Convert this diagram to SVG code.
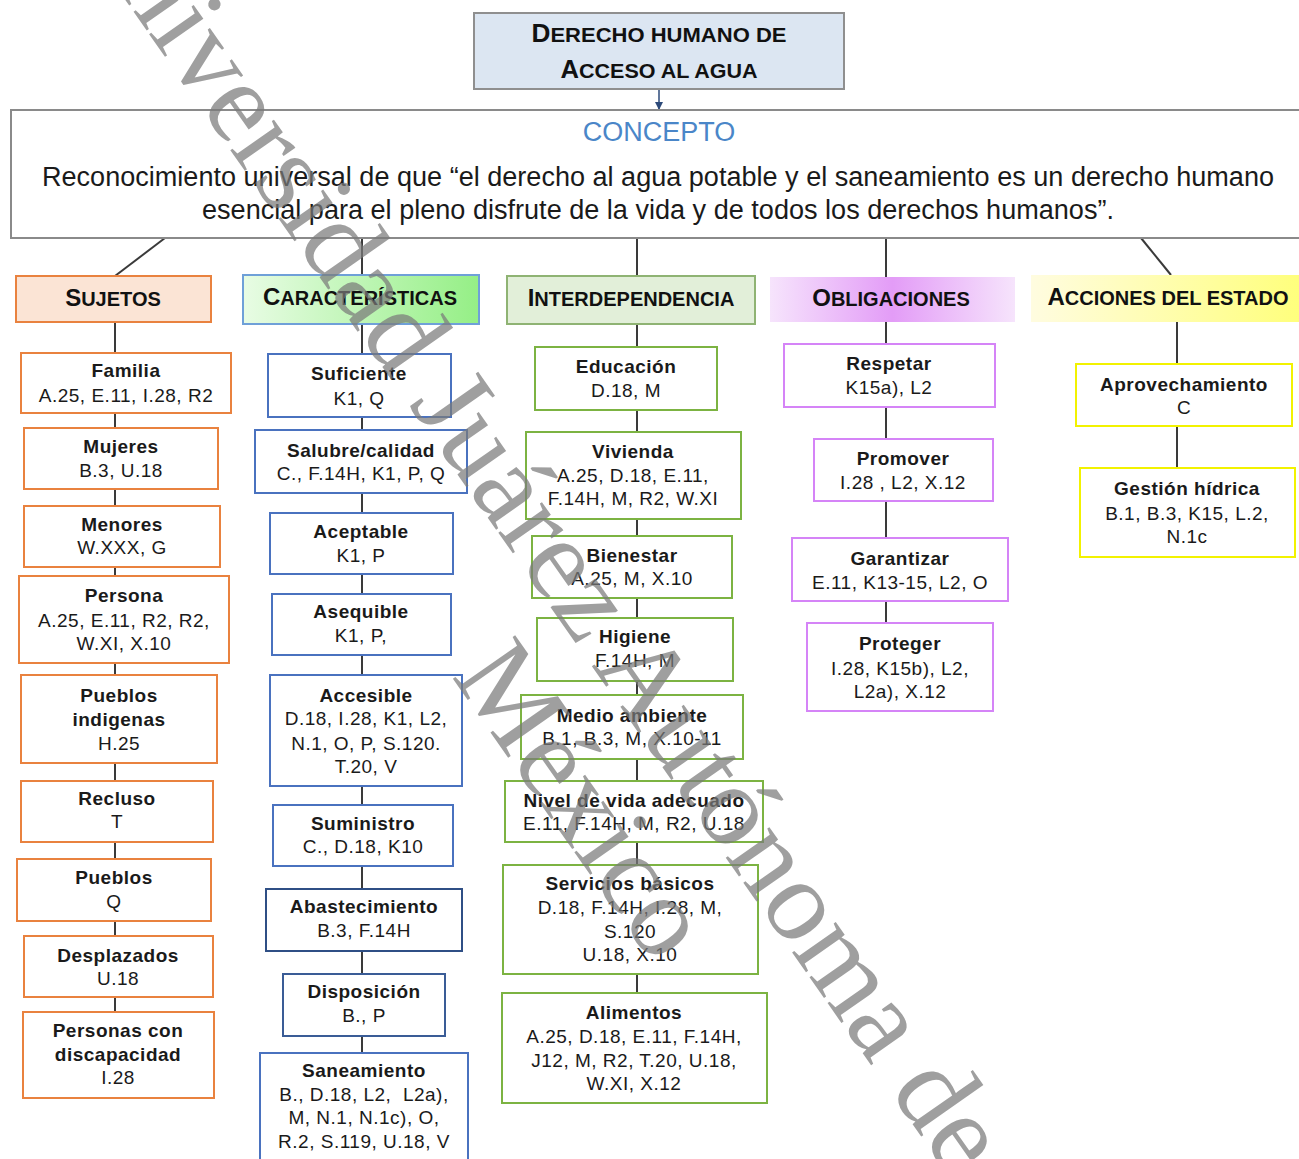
<svg xmlns="http://www.w3.org/2000/svg" width="1299" height="1159" viewBox="0 0 1299 1159">
<defs>
<style>
text{font-family:"Liberation Sans",Arial,sans-serif;fill:#1a1a1a}
.t{font-weight:bold;font-size:19px;letter-spacing:0.5px;text-anchor:middle}
.r{font-size:19px;letter-spacing:0.5px;text-anchor:middle}
.h{font-weight:bold;font-size:20px;text-anchor:middle;fill:#111}
.big{font-size:24px}
.bs rect{fill:#fff;stroke:#e9823f;stroke-width:2}
.bc rect{fill:#fff;stroke:#4a72bf;stroke-width:2}
.bi rect{fill:#fff;stroke:#7cb342;stroke-width:2}
.bo rect{fill:#fff;stroke:#d584f7;stroke-width:2}
.ba rect{fill:#fff;stroke:#f2f200;stroke-width:2}
.con line{stroke:#3a3a3a;stroke-width:2}
.wm{font-family:"Liberation Serif","Times New Roman",serif;font-size:116px;fill:#7a7a7a;fill-opacity:0.72}
</style>
<linearGradient id="gC" x1="0" y1="0" x2="1" y2="0"><stop offset="0" stop-color="#e8fce4"/><stop offset="1" stop-color="#95ef86"/></linearGradient>
<linearGradient id="gO" x1="0" y1="0" x2="1" y2="0"><stop offset="0" stop-color="#f6e4fc"/><stop offset="0.5" stop-color="#e39cf7"/><stop offset="1" stop-color="#f6e4fc"/></linearGradient>
<linearGradient id="gA" x1="0" y1="0" x2="1" y2="0"><stop offset="0" stop-color="#fffce0"/><stop offset="1" stop-color="#ffff78"/></linearGradient>
<marker id="arr" markerWidth="8" markerHeight="8" refX="7" refY="4" orient="auto" markerUnits="userSpaceOnUse"><path d="M0,0 L8,4 L0,8 z" fill="#2d4a7a"/></marker>
</defs>
<rect width="1299" height="1159" fill="#fff"/>

<g id="connectors" class="con">
<line x1="659" y1="89" x2="659" y2="109" style="stroke:#2d4a7a;stroke-width:1.5" marker-end="url(#arr)"/>
<line x1="165" y1="238" x2="115" y2="276"/>
<line x1="362" y1="238" x2="362" y2="1053"/>
<line x1="637" y1="238" x2="637" y2="993"/>
<line x1="886" y1="238" x2="886" y2="623"/>
<line x1="1141" y1="238" x2="1171" y2="275"/>
<line x1="115" y1="322" x2="115" y2="1012"/>
<line x1="1177" y1="322" x2="1177" y2="468"/>
</g>

<g id="title">
<rect x="474" y="13" width="370" height="76" fill="#dce6f2" stroke="#8f8f8f" stroke-width="2"/>
<text class="h" x="659" y="42" textLength="255" lengthAdjust="spacingAndGlyphs"><tspan style="font-size:25px">D</tspan><tspan style="font-size:21px">ERECHO HUMANO DE</tspan></text>
<text class="h" x="659" y="78" textLength="197" lengthAdjust="spacingAndGlyphs"><tspan style="font-size:25px">A</tspan><tspan style="font-size:21px">CCESO AL AGUA</tspan></text>
</g>

<g id="concepto">
<rect x="11" y="110" width="1300" height="128" fill="#fff" stroke="#8a8a8a" stroke-width="2"/>
<text x="659" y="141" style="font-size:27px;fill:#4a86c8;text-anchor:middle">CONCEPTO</text>
<text x="658" y="186" style="font-size:27px;text-anchor:middle" textLength="1232" lengthAdjust="spacingAndGlyphs">Reconocimiento universal de que “el derecho al agua potable y el saneamiento es un derecho humano</text>
<text x="658" y="219" style="font-size:27px;text-anchor:middle" textLength="912" lengthAdjust="spacingAndGlyphs">esencial para el pleno disfrute de la vida y de todos los derechos humanos”.</text>
</g>

<g id="h-sujetos">
<rect x="16" y="276" width="195" height="46" fill="#fbe4d5" stroke="#e9823f" stroke-width="2"/>
<text class="h" x="113" y="306"><tspan class="big">S</tspan>UJETOS</text>
</g>
<g id="h-caracteristicas">
<rect x="243" y="275" width="236" height="49" fill="url(#gC)" stroke="#6fa0d8" stroke-width="2"/>
<text class="h" x="360" y="305"><tspan class="big">C</tspan>ARACTERÍSTICAS</text>
</g>
<g id="h-interdependencia">
<rect x="507" y="276" width="248" height="48" fill="#e2efd9" stroke="#8fb373" stroke-width="2"/>
<text class="h" x="631" y="306"><tspan class="big">I</tspan>NTERDEPENDENCIA</text>
</g>
<g id="h-obligaciones">
<rect x="770" y="277" width="245" height="45" fill="url(#gO)"/>
<text class="h" x="891" y="306"><tspan class="big">O</tspan>BLIGACIONES</text>
</g>
<g id="h-acciones">
<rect x="1031" y="275" width="280" height="47" fill="url(#gA)"/>
<text class="h" x="1168" y="305"><tspan class="big">A</tspan>CCIONES DEL ESTADO</text>
</g>

<g id="s1" class="bs"><rect x="21" y="353" width="210" height="60"/><text class="t" x="126" y="377">Familia</text><text class="r" x="126" y="402">A.25, E.11, I.28, R2</text></g>
<g id="s2" class="bs"><rect x="24" y="428" width="194" height="61"/><text class="t" x="121" y="453">Mujeres</text><text class="r" x="121" y="477">B.3, U.18</text></g>
<g id="s3" class="bs"><rect x="24" y="506" width="196" height="61"/><text class="t" x="122" y="531">Menores</text><text class="r" x="122" y="554">W.XXX, G</text></g>
<g id="s4" class="bs"><rect x="19" y="576" width="210" height="87"/><text class="t" x="124" y="602">Persona</text><text class="r" x="124" y="627">A.25, E.11, R2, R2,</text><text class="r" x="124" y="650">W.XI, X.10</text></g>
<g id="s5" class="bs"><rect x="21" y="675" width="196" height="88"/><text class="t" x="119" y="702">Pueblos</text><text class="t" x="119" y="726">indigenas</text><text class="r" x="119" y="750">H.25</text></g>
<g id="s6" class="bs"><rect x="21" y="781" width="192" height="61"/><text class="t" x="117" y="805">Recluso</text><text class="r" x="117" y="828">T</text></g>
<g id="s7" class="bs"><rect x="17" y="859" width="194" height="62"/><text class="t" x="114" y="884">Pueblos</text><text class="r" x="114" y="908">Q</text></g>
<g id="s8" class="bs"><rect x="24" y="936" width="189" height="61"/><text class="t" x="118" y="962">Desplazados</text><text class="r" x="118" y="985">U.18</text></g>
<g id="s9" class="bs"><rect x="23" y="1012" width="191" height="86"/><text class="t" x="118" y="1037">Personas con</text><text class="t" x="118" y="1061">discapacidad</text><text class="r" x="118" y="1084">I.28</text></g>

<g id="c1" class="bc"><rect x="268" y="354" width="183" height="63"/><text class="t" x="359" y="380">Suficiente</text><text class="r" x="359" y="405">K1, Q</text></g>
<g id="c2" class="bc"><rect x="255" y="430" width="212" height="63"/><text class="t" x="361" y="457">Salubre/calidad</text><text class="r" x="361" y="480">C., F.14H, K1, P, Q</text></g>
<g id="c3" class="bc"><rect x="270" y="513" width="183" height="61"/><text class="t" x="361" y="538">Aceptable</text><text class="r" x="361" y="562">K1, P</text></g>
<g id="c4" class="bc"><rect x="272" y="594" width="179" height="61"/><text class="t" x="361" y="618">Asequible</text><text class="r" x="361" y="642">K1, P,</text></g>
<g id="c5" class="bc"><rect x="270" y="675" width="192" height="111"/><text class="t" x="366" y="702">Accesible</text><text class="r" x="366" y="725">D.18, I.28, K1, L2,</text><text class="r" x="366" y="750">N.1, O, P, S.120.</text><text class="r" x="366" y="773">T.20, V</text></g>
<g id="c6" class="bc"><rect x="273" y="805" width="180" height="61"/><text class="t" x="363" y="830">Suministro</text><text class="r" x="363" y="853">C., D.18, K10</text></g>
<g id="c7" class="bc"><rect x="266" y="889" width="196" height="62" style="stroke:#2f4f85"/><text class="t" x="364" y="913">Abastecimiento</text><text class="r" x="364" y="937">B.3, F.14H</text></g>
<g id="c8" class="bc"><rect x="283" y="974" width="162" height="62" style="stroke:#3a5c96"/><text class="t" x="364" y="998">Disposición</text><text class="r" x="364" y="1022">B., P</text></g>
<g id="c9" class="bc"><rect x="260" y="1053" width="208" height="115"/><text class="t" x="364" y="1077">Saneamiento</text><text class="r" x="364" y="1101" xml:space="preserve">B., D.18, L2,  L2a),</text><text class="r" x="364" y="1124">M, N.1, N.1c), O,</text><text class="r" x="364" y="1148">R.2, S.119, U.18, V</text></g>

<g id="i1" class="bi"><rect x="535" y="347" width="182" height="63"/><text class="t" x="626" y="373">Educación</text><text class="r" x="626" y="397">D.18, M</text></g>
<g id="i2" class="bi"><rect x="526" y="432" width="215" height="87"/><text class="t" x="633" y="458">Vivienda</text><text class="r" x="633" y="482">A.25, D.18, E.11,</text><text class="r" x="633" y="505">F.14H, M, R2, W.XI</text></g>
<g id="i3" class="bi"><rect x="532" y="536" width="200" height="62"/><text class="t" x="632" y="562">Bienestar</text><text class="r" x="632" y="585">A.25, M, X.10</text></g>
<g id="i4" class="bi"><rect x="537" y="618" width="196" height="63"/><text class="t" x="635" y="643">Higiene</text><text class="r" x="635" y="667">F.14H, M</text></g>
<g id="i5" class="bi"><rect x="521" y="695" width="222" height="64"/><text class="t" x="632" y="722">Medio ambiente</text><text class="r" x="632" y="745">B.1, B.3, M, X.10-11</text></g>
<g id="i6" class="bi"><rect x="505" y="781" width="258" height="61"/><text class="t" x="634" y="807">Nivel de vida adecuado</text><text class="r" x="634" y="830">E.11, F.14H, M, R2, U.18</text></g>
<g id="i7" class="bi"><rect x="503" y="865" width="255" height="109"/><text class="t" x="630" y="890">Servicios básicos</text><text class="r" x="630" y="914">D.18, F.14H, I.28, M,</text><text class="r" x="630" y="938">S.120</text><text class="r" x="630" y="961">U.18, X.10</text></g>
<g id="i8" class="bi"><rect x="502" y="993" width="265" height="110"/><text class="t" x="634" y="1019">Alimentos</text><text class="r" x="634" y="1043">A.25, D.18, E.11, F.14H,</text><text class="r" x="634" y="1067">J12, M, R2, T.20, U.18,</text><text class="r" x="634" y="1090">W.XI, X.12</text></g>

<g id="o1" class="bo"><rect x="784" y="344" width="211" height="63"/><text class="t" x="889" y="370">Respetar</text><text class="r" x="889" y="394">K15a), L2</text></g>
<g id="o2" class="bo"><rect x="814" y="439" width="179" height="62"/><text class="t" x="903" y="465">Promover</text><text class="r" x="903" y="489">I.28 , L2, X.12</text></g>
<g id="o3" class="bo"><rect x="792" y="538" width="216" height="63"/><text class="t" x="900" y="565">Garantizar</text><text class="r" x="900" y="589">E.11, K13-15, L2, O</text></g>
<g id="o4" class="bo"><rect x="807" y="623" width="186" height="88"/><text class="t" x="900" y="650">Proteger</text><text class="r" x="900" y="675">I.28, K15b), L2,</text><text class="r" x="900" y="698">L2a), X.12</text></g>

<g id="a1" class="ba"><rect x="1076" y="364" width="216" height="62"/><text class="t" x="1184" y="391">Aprovechamiento</text><text class="r" x="1184" y="414">C</text></g>
<g id="a2" class="ba"><rect x="1080" y="468" width="215" height="89"/><text class="t" x="1187" y="495">Gestión hídrica</text><text class="r" x="1187" y="520">B.1, B.3, K15, L.2,</text><text class="r" x="1187" y="543">N.1c</text></g>

<g id="watermark">
<text class="wm" transform="translate(66.5,-84) rotate(55)">Universidad Juárez Autónoma de</text>
<text class="wm" transform="translate(451,676) rotate(55)">México</text>
</g>
</svg>
